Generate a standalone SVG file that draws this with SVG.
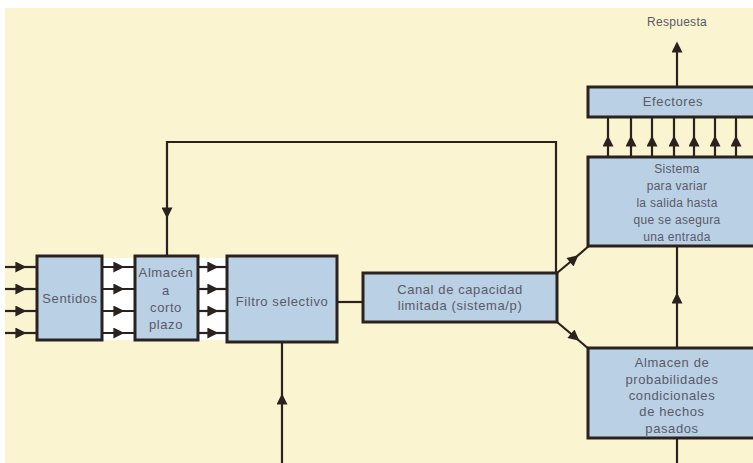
<svg xmlns="http://www.w3.org/2000/svg" width="753" height="463" viewBox="0 0 753 463">
<defs>
<marker id="ah" viewBox="0 0 10 10" refX="6" refY="5" markerWidth="12" markerHeight="11" markerUnits="userSpaceOnUse" orient="auto">
<path d="M0,0 L10,5 L0,10 z" fill="#2a221e"/>
</marker>
<style>
.box{fill:#b9d0e5;stroke:#2a221e;stroke-width:3}
.ln{fill:none;stroke:#2a221e;stroke-width:2.2}
.ar{fill:none;stroke:#2a221e;stroke-width:2.2;marker-mid:url(#ah)}
.t{font-family:"Liberation Sans",Arial,sans-serif;font-size:13px;letter-spacing:0.6px;fill:#5c5a66;text-anchor:middle}
.s{font-size:12px;letter-spacing:0.3px}
</style>
</defs>
<rect x="0" y="0" width="753" height="463" fill="#faf4d0"/>
<rect x="0" y="0" width="753" height="8" fill="#ffffff"/>
<rect x="0" y="0" width="5" height="463" fill="#ffffff"/>
<rect x="102" y="258" width="33" height="82" fill="#ffffff"/>
<rect x="198" y="258" width="29" height="82" fill="#ffffff"/>

<g id="connectors">
<polyline class="ar" points="5,267 22,267 36,267"/>
<polyline class="ar" points="5,289 22,289 36,289"/>
<polyline class="ar" points="5,311 22,311 36,311"/>
<polyline class="ar" points="5,333 22,333 36,333"/>
<polyline class="ar" points="102,267 120,267 135,267"/>
<polyline class="ar" points="102,289 120,289 135,289"/>
<polyline class="ar" points="102,311 120,311 135,311"/>
<polyline class="ar" points="102,333 120,333 135,333"/>
<polyline class="ar" points="198,267 214,267 227,267"/>
<polyline class="ar" points="198,289 214,289 227,289"/>
<polyline class="ar" points="198,311 214,311 227,311"/>
<polyline class="ar" points="198,333 214,333 227,333"/>
<line class="ln" x1="337" y1="302" x2="363" y2="302"/>
<polyline class="ln" points="556,273 556,142 167,142 167,170"/>
<polyline class="ar" points="167,170 167,214 167,255"/>
<polyline class="ar" points="282,463 282,398 282,342"/>
<polyline class="ar" points="557,273 575,258 590,245"/>
<polyline class="ar" points="557,322 576,338 590,350"/>
<polyline class="ar" points="677,348 677,297 677,246"/>
<line class="ln" x1="677" y1="438" x2="677" y2="463"/>
<polyline class="ar" points="677,86 677,46 677,44"/>
<polyline class="ar" points="608,157 608,140 608,117"/>
<polyline class="ar" points="631,157 631,140 631,117"/>
<polyline class="ar" points="652,157 652,140 652,117"/>
<polyline class="ar" points="674,157 674,140 674,117"/>
<polyline class="ar" points="694,157 694,140 694,117"/>
<polyline class="ar" points="715,157 715,140 715,117"/>
<polyline class="ar" points="736,157 736,140 736,117"/>
</g>

<g id="respuesta"><text class="t" x="677" y="26" style="font-size:12px;letter-spacing:0.3px">Respuesta</text></g>

<g id="sentidos">
<rect class="box" x="37" y="256" width="65" height="84"/>
<text class="t" x="70" y="303">Sentidos</text>
</g>
<g id="almacen-corto">
<rect class="box" x="135" y="256" width="63" height="84"/>
<text class="t" x="166" y="277">Almacén</text>
<text class="t" x="166" y="295">a</text>
<text class="t" x="166" y="312">corto</text>
<text class="t" x="166" y="329">plazo</text>
</g>
<g id="filtro">
<rect class="box" x="227" y="256" width="110" height="86"/>
<text class="t" x="282" y="306">Filtro selectivo</text>
</g>
<g id="canal">
<rect class="box" x="363" y="273" width="194" height="49"/>
<text class="t" x="460" y="294">Canal de capacidad</text>
<text class="t" x="460" y="310">limitada (sistema/p)</text>
</g>
<g id="efectores">
<rect class="box" x="588" y="87" width="170" height="30"/>
<text class="t" x="673" y="106">Efectores</text>
</g>
<g id="sistema">
<rect class="box" x="588" y="157" width="170" height="89"/>
<text class="t s" x="677" y="173">Sistema</text>
<text class="t s" x="677" y="190">para variar</text>
<text class="t s" x="677" y="207">la salida hasta</text>
<text class="t s" x="677" y="224">que se asegura</text>
<text class="t s" x="677" y="241">una entrada</text>
</g>
<g id="almacen-prob">
<rect class="box" x="588" y="348" width="170" height="90"/>
<text class="t" x="672" y="367">Almacen de</text>
<text class="t" x="672" y="384">probabilidades</text>
<text class="t" x="672" y="400">condicionales</text>
<text class="t" x="672" y="416">de hechos</text>
<text class="t" x="672" y="433">pasados</text>
</g>
</svg>
